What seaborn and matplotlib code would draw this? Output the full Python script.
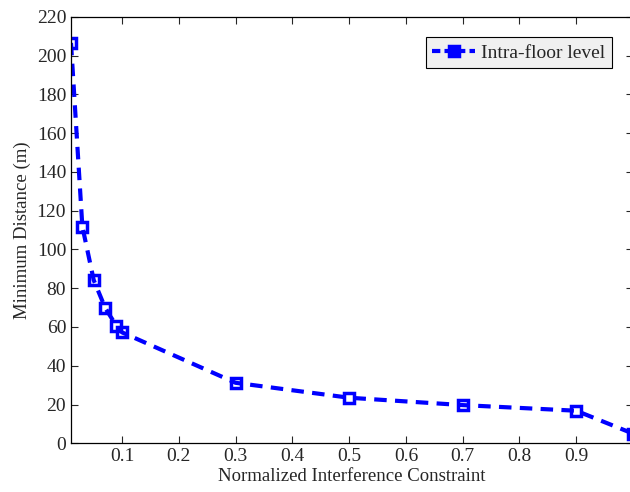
import pandas as pd
import seaborn as sns
import matplotlib.pyplot as plt

# Values
constraint = [0.01, 0.03, 0.05, 0.07, 0.09, 0.1, 0.3, 0.5, 0.7, 0.9, 1.0]
min_distance = [206.5, 111.8, 84.2, 70.0, 60.5, 57.2, 31.2, 23.5, 19.7, 16.8, 5.0]
x_ticks = [0.1, 0.2, 0.3, 0.4, 0.5, 0.6, 0.7, 0.8, 0.9, 1.0]
x_tick_labels = ['0.1', '0.2', '0.3', '0.4', '0.5', '0.6', '0.7', '0.8', '0.9', '1']
y_ticks = [0, 20, 40, 60, 80, 100, 120, 140, 160, 180, 200, 220]

df = pd.DataFrame({'constraint': constraint, 'distance': min_distance})

sns.set_style('ticks')
plt.rcParams['font.family'] = ['Liberation Serif', 'DejaVu Serif']

fig = plt.figure(figsize=(6.3, 4.92), dpi=100)
ax = fig.add_axes([0.1127, 0.099, 0.892, 0.867])

sns.lineplot(data=df, x='constraint', y='distance', ax=ax, color='#0000ff',
             linewidth=3, marker='s', markersize=7,
             markerfacecolor='none', markeredgecolor='#0000ff', markeredgewidth=2.5,
             label='Intra-floor level')
ax.lines[0].set_dashes((3, 2))

ax.set_xlim(0.01, 1.0)
ax.set_ylim(0, 220)
ax.set_xticks(x_ticks)
ax.set_xticklabels(x_tick_labels)
ax.set_yticks(y_ticks)
ax.tick_params(direction='in', top=True, right=True, labelsize=14, length=5, width=0.8)
for s in ax.spines.values():
    s.set_visible(True)
    s.set_linewidth(0.9)
    s.set_color('black')

ax.set_xlabel('Normalized Interference Constraint', fontsize=13.5, labelpad=2)
ax.set_ylabel('Minimum Distance (m)', fontsize=13.5, labelpad=4)

leg = ax.legend(loc='upper right', bbox_to_anchor=(0.98, 0.975), fontsize=14,
                fancybox=False, framealpha=1, edgecolor='black',
                handlelength=2.2, handletextpad=0.3, borderpad=0.35)
leg.get_frame().set_facecolor('#f0f0f0')
leg.get_frame().set_linewidth(0.8)
for h in leg.legend_handles:
    h.set_markerfacecolor('#0000ff')
    h.set_dashes((2, 1))

fig.savefig('out.png', dpi=100)
